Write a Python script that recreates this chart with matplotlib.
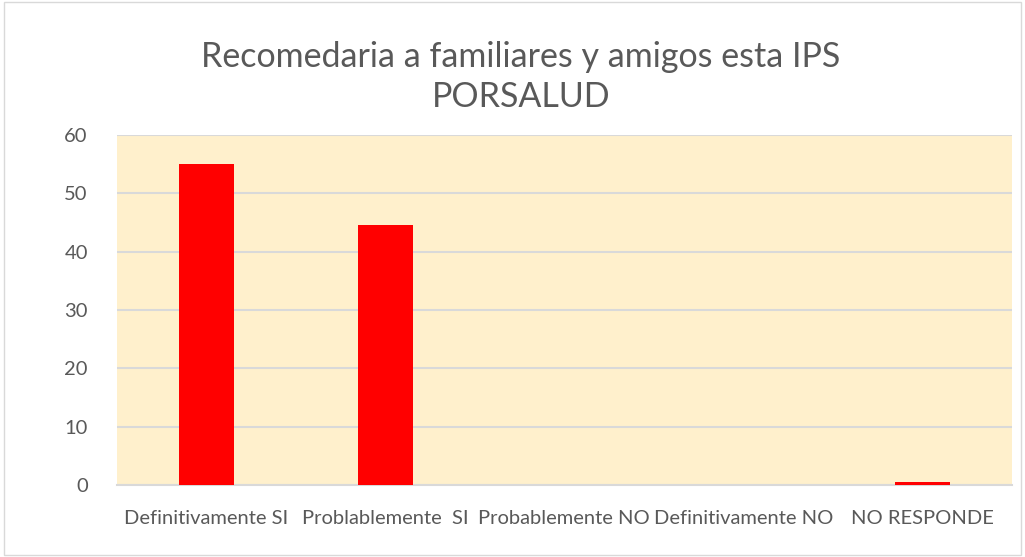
import matplotlib
matplotlib.use("Agg")
import matplotlib.pyplot as plt
from matplotlib.patches import Rectangle

categories = ["Definitivamente SI", "Problablemente  SI", "Probablemente NO",
              "Definitivamente NO", "NO RESPONDE"]
values = [55, 44.5, 0, 0, 0.5]
yticks = [0, 10, 20, 30, 40, 50, 60]

plt.rcParams["font.family"] = ["Lato", "DejaVu Sans"]
text_color = "#595959"

fig = plt.figure(figsize=(10.25, 5.57), dpi=100)
ax = fig.add_axes([0.1141, 0.129, 0.8730, 0.6287])
ax.set_facecolor("#FFF0CC")

x = range(len(categories))
ax.bar(x, values, width=0.31, color="#FF0000", zorder=3)

ax.set_xlim(-0.5, len(categories) - 0.5)
ax.set_ylim(0, 60)
ax.set_yticks(yticks)
ax.set_xticks(list(x))
ax.set_xticklabels(categories)
ax.yaxis.grid(True, color="#D9D9D9", linewidth=1.5, zorder=1)
ax.tick_params(axis="both", length=0, colors=text_color, labelsize=14.5)
ax.tick_params(axis="x", pad=18)
ax.tick_params(axis="y", pad=21)
for side in ["top", "right", "left"]:
    ax.spines[side].set_visible(False)
ax.spines["bottom"].set_color("#D9D9D9")
ax.spines["bottom"].set_linewidth(1.5)

fig.suptitle("Recomedaria a familiares y amigos esta IPS\nPORSALUD",
             x=0.508, y=0.926, fontsize=24.5, color=text_color, linespacing=1.3)

fig.patches.append(Rectangle((0.004, 0.004), 0.992, 0.992, transform=fig.transFigure,
                             fill=False, edgecolor="#D9D9D9", linewidth=1))

fig.savefig("out.png", dpi=100)
